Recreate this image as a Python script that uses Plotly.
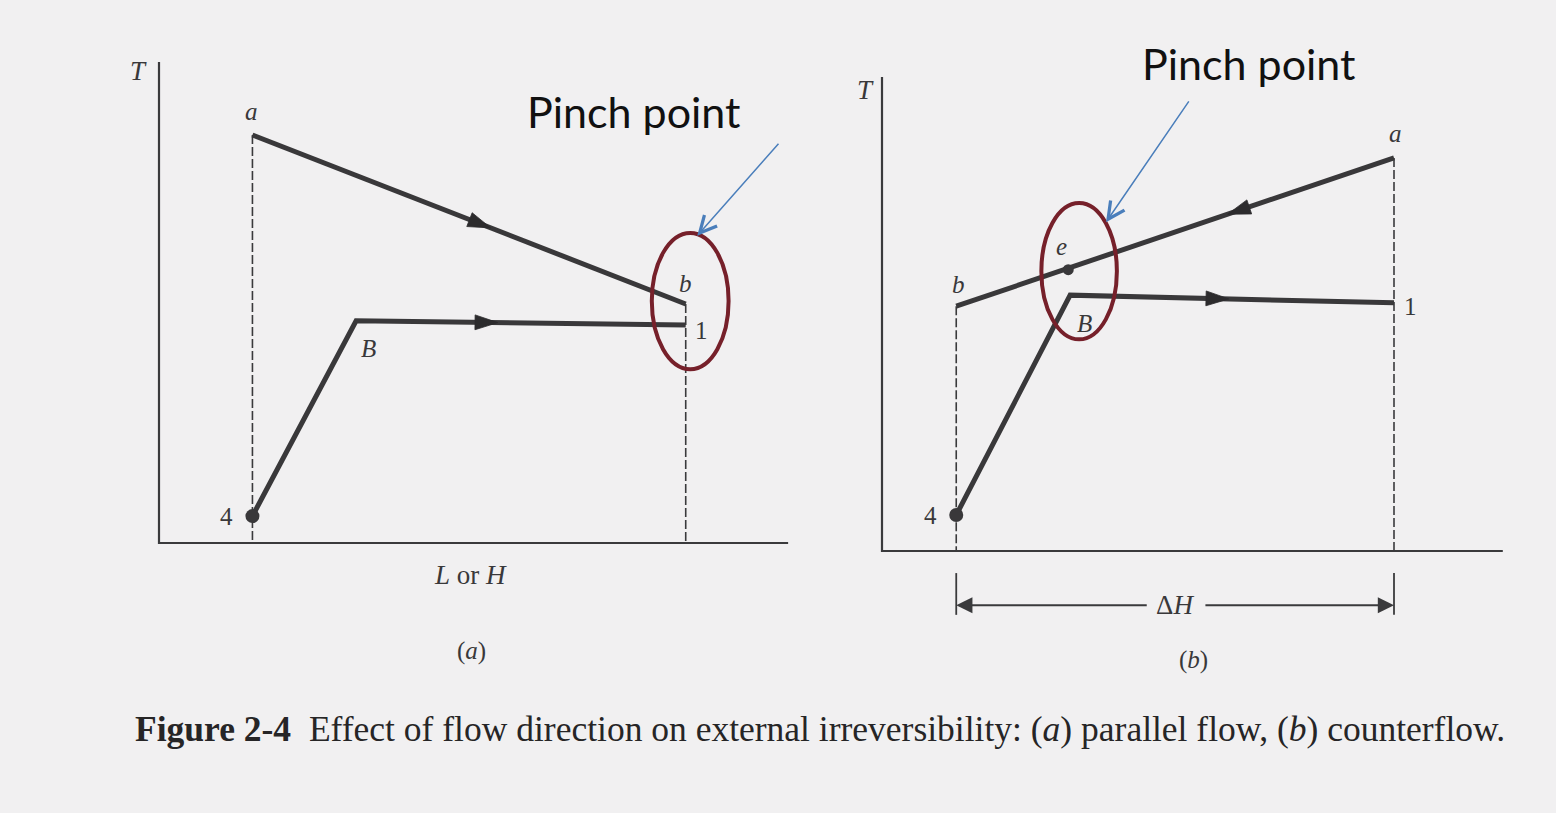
import plotly.graph_objects as go

W, H = 1556, 813

# ---- Panel (a): parallel flow (arbitrary enthalpy / temperature units) ----
A_HOT_H = [14.6, 82.3]            # a -> b
A_HOT_T = [85.0, 49.8]
A_COLD_H = [14.6, 30.8, 82.3]     # 4 -> B -> 1
A_COLD_T = [5.6, 46.3, 45.4]
A_AXIS_H_END = 98.3
A_AXIS_T_END = 100.2

# ---- Panel (b): counterflow ----
B_HOT_H = [80.0, 11.6]            # a -> b
B_HOT_T = [81.9, 51.0]
B_E_H, B_E_T = 29.1, 58.6         # pinch point e on the hot line
B_COLD_H = [11.6, 29.4, 80.0]     # 4 -> B -> 1
B_COLD_T = [7.5, 53.3, 51.7]
B_AXIS_H_END = 97.0
B_AXIS_T_END = 98.75

# point labels: (text, H, T)
A_LABELS = [("<i>a</i>", 14.5, 89.8), ("<i>b</i>", 82.2, 54.0), ("<i>B</i>", 32.8, 40.6),
            ("1", 84.8, 44.2), ("4", 10.6, 5.6)]
B_LABELS = [("<i>a</i>", 80.3, 86.9), ("<i>e</i>", 28.0, 63.5), ("<i>b</i>", 11.9, 55.6),
            ("<i>B</i>", 31.7, 47.5), ("1", 82.6, 51.0), ("4", 7.6, 7.5)]

CAPTION = ("<b>Figure 2-4</b>  Effect of flow direction on external irreversibility: "
           "(<i>a</i>) parallel flow, (<i>b</i>) counterflow.")

# ---- styling ----
INK = "#39383a"
AXIS_INK = "#3a3a3c"
RING = "#76202a"
BLUE = "#4a7ebb"
SERIF = "Liberation Serif"
DASH = "9px,3px"
PX_PER_H, PX_PER_T = 6.4, 4.8
X_RANGE, Y_RANGE = [-5, 100], [-30, 105]


def xdom(origin_px):
    return [(origin_px + X_RANGE[0] * PX_PER_H) / W, (origin_px + X_RANGE[1] * PX_PER_H) / W]


def ydom(base_px):
    return [1 - (base_px - Y_RANGE[0] * PX_PER_T) / H, 1 - (base_px - Y_RANGE[1] * PX_PER_T) / H]


def along(h, t, i, frac):
    """Point a fraction of the way along segment i of a polyline."""
    return (h[i] + frac * (h[i + 1] - h[i]), t[i] + frac * (t[i + 1] - t[i]))


fig = go.Figure()


def seg(xs, ys, ax, width, color, dash="solid"):
    fig.add_trace(go.Scatter(x=xs, y=ys, mode="lines", xaxis=ax[0], yaxis=ax[1],
                             line=dict(color=color, width=width, dash=dash),
                             hoverinfo="skip", showlegend=False))


def flow_arrow(h, t, i, frac, ax):
    mh, mt = along(h, t, i, frac)
    fig.add_trace(go.Scatter(x=[h[i], mh], y=[t[i], mt], mode="markers",
                             xaxis=ax[0], yaxis=ax[1],
                             marker=dict(symbol="arrow", angleref="previous",
                                         size=[0, 24], color="#2c2b2d", opacity=1,
                                         line=dict(width=0.8, color="#2c2b2d")),
                             hoverinfo="skip", showlegend=False))


def dot(h, t, ax, size):
    fig.add_trace(go.Scatter(x=[h], y=[t], mode="markers", xaxis=ax[0], yaxis=ax[1],
                             marker=dict(size=size, color=INK), hoverinfo="skip",
                             showlegend=False))


AX_A = ("x", "y")
AX_B = ("x2", "y2")

# panel (a)
seg([0, 0, A_AXIS_H_END], [A_AXIS_T_END, 0, 0], AX_A, 2.2, AXIS_INK)
seg([A_HOT_H[0], A_HOT_H[0]], [A_HOT_T[0], 0], AX_A, 1.6, AXIS_INK, DASH)
seg([A_HOT_H[1], A_HOT_H[1]], [A_HOT_T[1], 0], AX_A, 1.6, AXIS_INK, DASH)
seg(A_HOT_H, A_HOT_T, AX_A, 5, INK)
seg(A_COLD_H, A_COLD_T, AX_A, 5, INK)
flow_arrow(A_HOT_H, A_HOT_T, 0, 0.55, AX_A)
flow_arrow(A_COLD_H, A_COLD_T, 1, 0.43, AX_A)
dot(A_COLD_H[0], A_COLD_T[0], AX_A, 14)

# panel (b)
seg([0, 0, B_AXIS_H_END], [B_AXIS_T_END, 0, 0], AX_B, 2.2, AXIS_INK)
seg([B_HOT_H[1], B_HOT_H[1]], [B_HOT_T[1], 0], AX_B, 1.6, AXIS_INK, DASH)
seg([B_HOT_H[0], B_HOT_H[0]], [B_HOT_T[0], 0], AX_B, 1.6, AXIS_INK, DASH)
seg(B_HOT_H, B_HOT_T, AX_B, 5, INK)
seg(B_COLD_H, B_COLD_T, AX_B, 5, INK)
flow_arrow(B_HOT_H, B_HOT_T, 0, 0.38, AX_B)
flow_arrow(B_COLD_H, B_COLD_T, 1, 0.49, AX_B)
dot(B_COLD_H[0], B_COLD_T[0], AX_B, 14)
dot(B_E_H, B_E_T, AX_B, 11)

# delta-H dimension line under panel (b)
DIM_T = -11.3
seg([B_COLD_H[0], B_COLD_H[0]], [-4.6, -13.3], AX_B, 1.8, AXIS_INK)
seg([B_HOT_H[0], B_HOT_H[0]], [-4.6, -13.3], AX_B, 1.8, AXIS_INK)

annotations = []


def label(text, h, t, xr, yr, size=25, color=INK, family=SERIF):
    annotations.append(dict(text=text, x=h, y=t, xref=xr, yref=yr, showarrow=False,
                            font=dict(family=family, size=size, color=color),
                            xanchor="center", yanchor="middle"))


for txt, h, t in A_LABELS:
    label(txt, h, t, "x", "y")
for txt, h, t in B_LABELS:
    label(txt, h, t, "x2", "y2")

label("<i>T</i>", -3.2, 98.3, "x", "y", size=27)
label("<i>T</i>", -2.6, 96.0, "x2", "y2", size=27)
label("<i>L</i> or <i>H</i>", 48.6, -6.6, "x", "y", size=27)
label("(<i>a</i>)", 48.9, -22.4, "x", "y", size=25)
label("(<i>b</i>)", 48.6, -22.8, "x2", "y2", size=25)
label("\u0394<i>H</i>", 45.8, DIM_T, "x2", "y2", size=27)

# dimension arrows
for tip, tail in ((B_COLD_H[0], 41.6), (B_HOT_H[0], 50.3)):
    annotations.append(dict(x=tip, y=DIM_T, ax=tail, ay=DIM_T, xref="x2", yref="y2",
                            axref="x2", ayref="y2", text="", showarrow=True,
                            arrowhead=2, arrowsize=1.8, arrowwidth=1.8, arrowcolor=AXIS_INK))

# pinch point call-outs
for xr, yr, th, tt, tip, tail in (("x", "y", 74.1, 90.0, (84.1, 64.0), (97.0, 83.5)),
                                  ("x2", "y2", 57.2, 101.6, (35.0, 68.5), (48.1, 94.0))):
    label("Pinch point", th, tt, xr, yr, size=43, color="#111111", family="Lato")
    annotations.append(dict(x=tip[0], y=tip[1], ax=tail[0], ay=tail[1], xref=xr, yref=yr,
                            axref=xr, ayref=yr, text="", showarrow=True, arrowhead=5,
                            arrowsize=2.2, arrowwidth=1.5, arrowcolor=BLUE))

annotations.append(dict(text=CAPTION, x=133 / W, y=1 - 729 / H, xref="paper", yref="paper",
                        xanchor="left", yanchor="middle", showarrow=False,
                        font=dict(family=SERIF, size=35.5, color="#262526")))

shapes = [
    dict(type="circle", xref="x", yref="y", x0=77.0, x1=89.0, y0=36.2, y1=64.6,
         line=dict(color=RING, width=4)),
    dict(type="circle", xref="x2", yref="y2", x0=24.9, x1=36.7, y0=44.1, y1=72.5,
         line=dict(color=RING, width=4)),
]

axis_common = dict(visible=False, fixedrange=True, showgrid=False, zeroline=False)
fig.update_layout(
    width=W, height=H, margin=dict(l=0, r=0, t=0, b=0),
    paper_bgcolor="#f1f0f1", plot_bgcolor="rgba(0,0,0,0)",
    xaxis=dict(domain=xdom(159), range=X_RANGE, anchor="y", **axis_common),
    yaxis=dict(domain=ydom(543), range=Y_RANGE, anchor="x", **axis_common),
    xaxis2=dict(domain=xdom(882), range=X_RANGE, anchor="y2", **axis_common),
    yaxis2=dict(domain=ydom(551), range=Y_RANGE, anchor="x2", **axis_common),
    annotations=annotations, shapes=shapes, showlegend=False,
)

fig.write_html("out.html")
